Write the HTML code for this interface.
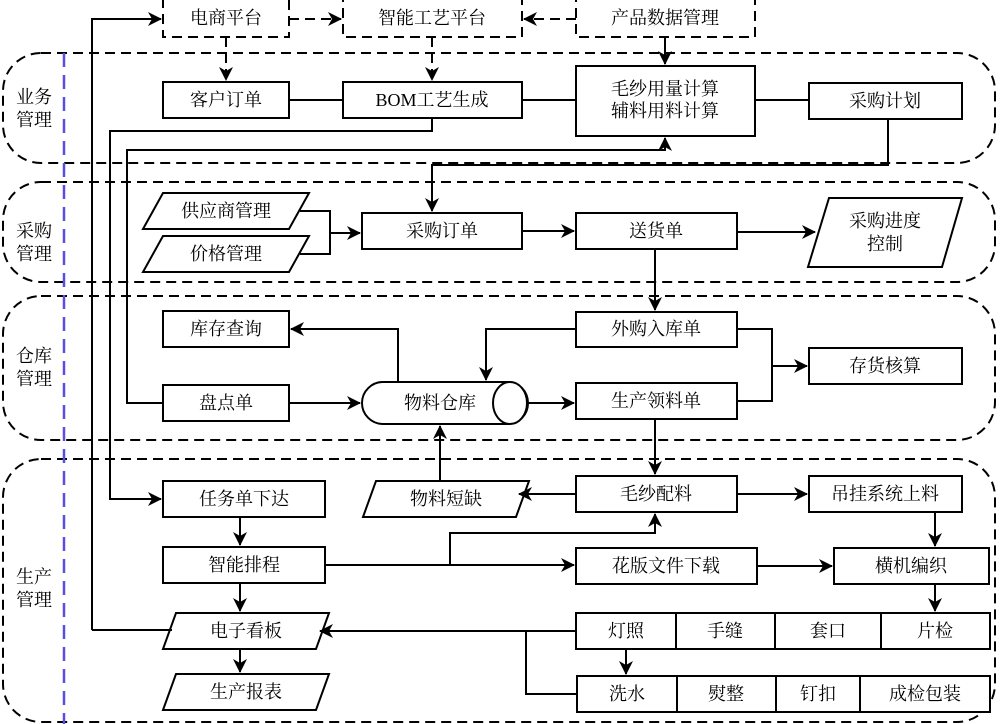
<!DOCTYPE html>
<html><head><meta charset="utf-8"><style>
html,body{margin:0;padding:0;background:#fff}
svg{display:block}
text{font-family:"Liberation Serif","Noto Serif CJK SC","Noto Sans CJK SC",serif;font-size:18px;fill:#000;text-anchor:middle;dominant-baseline:central}
</style></head><body>
<svg width="1000" height="724" viewBox="0 0 1000 724" xmlns="http://www.w3.org/2000/svg">
<defs>
<marker id="a" markerWidth="14" markerHeight="14" refX="13" refY="7" orient="auto" markerUnits="userSpaceOnUse">
<path d="M0,0 L14,7 L0,14 L4,7 z" fill="#000"/></marker>
</defs>
<g fill="none" stroke="#000" stroke-width="2" stroke-dasharray="10,6">
<rect x="3" y="53" width="992" height="110" rx="38"/>
<rect x="3" y="182" width="992" height="100" rx="38"/>
<rect x="3" y="296" width="992" height="144" rx="38"/>
<rect x="3" y="459" width="992" height="263" rx="38"/>
<rect x="163" y="-2" width="126" height="39"/>
<rect x="343" y="-2" width="179" height="39"/>
<rect x="576" y="-2" width="179" height="39"/>
<line x1="289" y1="19" x2="341" y2="19" marker-end="url(#a)"/>
<line x1="576" y1="19" x2="524" y2="19" marker-end="url(#a)"/>
<line x1="226" y1="37" x2="226" y2="80" marker-end="url(#a)"/>
<line x1="432" y1="37" x2="432" y2="80" marker-end="url(#a)"/>
</g>
<line x1="64" y1="53" x2="64" y2="724" stroke="#5b4fe0" stroke-width="2.5" stroke-dasharray="14,8"/>
<g fill="#fff" stroke="#000" stroke-width="2">
<rect x="163" y="82" width="126" height="36"/>
<rect x="343" y="82" width="179" height="36"/>
<rect x="576" y="66" width="179" height="70"/>
<rect x="809" y="83" width="153" height="36"/>
<polygon points="163,193 309,193 289,229 143,229"/>
<polygon points="163,236 309,236 289,272 143,272"/>
<rect x="362" y="213" width="160" height="36"/>
<rect x="576" y="213" width="161" height="36"/>
<polygon points="829,198 962,198 942,267 808,267"/>
<rect x="163" y="311" width="126" height="36"/>
<rect x="163" y="385" width="126" height="36"/>
<rect x="576" y="312" width="161" height="35"/>
<rect x="576" y="383" width="161" height="36"/>
<rect x="809" y="348" width="153" height="36"/>
<path d="M383,382 H508 A20,21 0 0 1 508,424 H383 A21,21 0 0 1 383,382 z"/>
<ellipse cx="510" cy="403" rx="17" ry="21"/>
<rect x="163" y="481" width="162" height="36"/>
<rect x="163" y="547" width="162" height="36"/>
<polygon points="176,613 329,613 316,649 163,649"/>
<polygon points="176,674 329,674 316,710 163,710"/>
<polygon points="376,481 529,481 516,517 363,517"/>
<rect x="576" y="476" width="161" height="36"/>
<rect x="809" y="476" width="153" height="36"/>
<rect x="576" y="548" width="181" height="36"/>
<rect x="834" y="548" width="155" height="36"/>
<rect x="576" y="613" width="414" height="36"/>
<rect x="577" y="676" width="413" height="36"/>
</g>
<g stroke="#000" stroke-width="2" fill="none">
<line x1="676" y1="613" x2="676" y2="649"/><line x1="775" y1="613" x2="775" y2="649"/><line x1="881" y1="613" x2="881" y2="649"/>
<line x1="677" y1="676" x2="677" y2="712"/><line x1="776" y1="676" x2="776" y2="712"/><line x1="860" y1="676" x2="860" y2="712"/>
<line x1="665" y1="37" x2="665" y2="64" marker-end="url(#a)"/>
<line x1="289" y1="100" x2="343" y2="100"/>
<line x1="522" y1="100" x2="576" y2="100"/>
<line x1="755" y1="100" x2="809" y2="100"/>
<polyline points="92,630 92,19 161,19" marker-end="url(#a)"/>
<polyline points="432,118 432,131 110,131 110,499 161,499" marker-end="url(#a)"/>
<polyline points="163,403 127,403 127,150 665,150 665,138" marker-end="url(#a)"/>
<polyline points="888,119 888,165 432,165 432,211" marker-end="url(#a)"/>
<polyline points="300,211 330,211 330,254 300,254"/>
<line x1="330" y1="233" x2="360" y2="233" marker-end="url(#a)"/>
<line x1="522" y1="231" x2="574" y2="231" marker-end="url(#a)"/>
<line x1="737" y1="232" x2="815" y2="232" marker-end="url(#a)"/>
<line x1="655" y1="249" x2="655" y2="310" marker-end="url(#a)"/>
<polyline points="398,382 398,329 291,329" marker-end="url(#a)"/>
<polyline points="576,329 486,329 486,380" marker-end="url(#a)"/>
<line x1="289" y1="403" x2="360" y2="403" marker-end="url(#a)"/>
<line x1="527" y1="403" x2="574" y2="403" marker-end="url(#a)"/>
<polyline points="737,329 772,329 772,401 737,401"/>
<line x1="772" y1="366" x2="807" y2="366" marker-end="url(#a)"/>
<line x1="655" y1="419" x2="655" y2="474" marker-end="url(#a)"/>
<line x1="440" y1="481" x2="440" y2="426" marker-end="url(#a)"/>
<line x1="576" y1="494" x2="519" y2="494" marker-end="url(#a)"/>
<line x1="737" y1="494" x2="807" y2="494" marker-end="url(#a)"/>
<line x1="935" y1="512" x2="935" y2="546" marker-end="url(#a)"/>
<line x1="325" y1="565" x2="574" y2="565" marker-end="url(#a)"/>
<polyline points="450,565 450,533 655,533 655,514" marker-end="url(#a)"/>
<line x1="757" y1="566" x2="832" y2="566" marker-end="url(#a)"/>
<line x1="935" y1="584" x2="935" y2="611" marker-end="url(#a)"/>
<line x1="576" y1="631" x2="320" y2="631" marker-end="url(#a)"/>
<polyline points="526,631 526,694 577,694"/>
<line x1="626" y1="649" x2="626" y2="674" marker-end="url(#a)"/>
<line x1="92" y1="630" x2="172" y2="630"/>
<line x1="240" y1="517" x2="240" y2="545" marker-end="url(#a)"/>
<line x1="240" y1="583" x2="240" y2="611" marker-end="url(#a)"/>
<line x1="240" y1="649" x2="240" y2="672" marker-end="url(#a)"/>
</g>
<text x="226" y="18">电商平台</text>
<text x="432" y="18">智能工艺平台</text>
<text x="665" y="18">产品数据管理</text>
<text x="226" y="100">客户订单</text>
<text x="432" y="100">BOM工艺生成</text>
<text x="665" y="89">毛纱用量计算</text>
<text x="665" y="111">辅料用料计算</text>
<text x="885" y="101">采购计划</text>
<text x="226" y="211">供应商管理</text>
<text x="226" y="254">价格管理</text>
<text x="442" y="231">采购订单</text>
<text x="656" y="231">送货单</text>
<text x="885" y="221">采购进度</text>
<text x="885" y="244">控制</text>
<text x="226" y="329">库存查询</text>
<text x="226" y="403">盘点单</text>
<text x="440" y="403">物料仓库</text>
<text x="656" y="329">外购入库单</text>
<text x="656" y="401">生产领料单</text>
<text x="885" y="366">存货核算</text>
<text x="244" y="499">任务单下达</text>
<text x="244" y="565">智能排程</text>
<text x="246" y="631">电子看板</text>
<text x="246" y="692">生产报表</text>
<text x="446" y="499">物料短缺</text>
<text x="656" y="494">毛纱配料</text>
<text x="885" y="494">吊挂系统上料</text>
<text x="666" y="566">花版文件下载</text>
<text x="911" y="566">横机编织</text>
<text x="626" y="631">灯照</text>
<text x="725" y="631">手缝</text>
<text x="828" y="631">套口</text>
<text x="935" y="631">片检</text>
<text x="627" y="694">洗水</text>
<text x="726" y="694">熨整</text>
<text x="818" y="694">钉扣</text>
<text x="925" y="694">成检包装</text>
<text x="34" y="97">业务</text>
<text x="34" y="120">管理</text>
<text x="34" y="231">采购</text>
<text x="34" y="254">管理</text>
<text x="34" y="356">仓库</text>
<text x="34" y="379">管理</text>
<text x="34" y="577">生产</text>
<text x="34" y="600">管理</text>
</svg>
</body></html>
